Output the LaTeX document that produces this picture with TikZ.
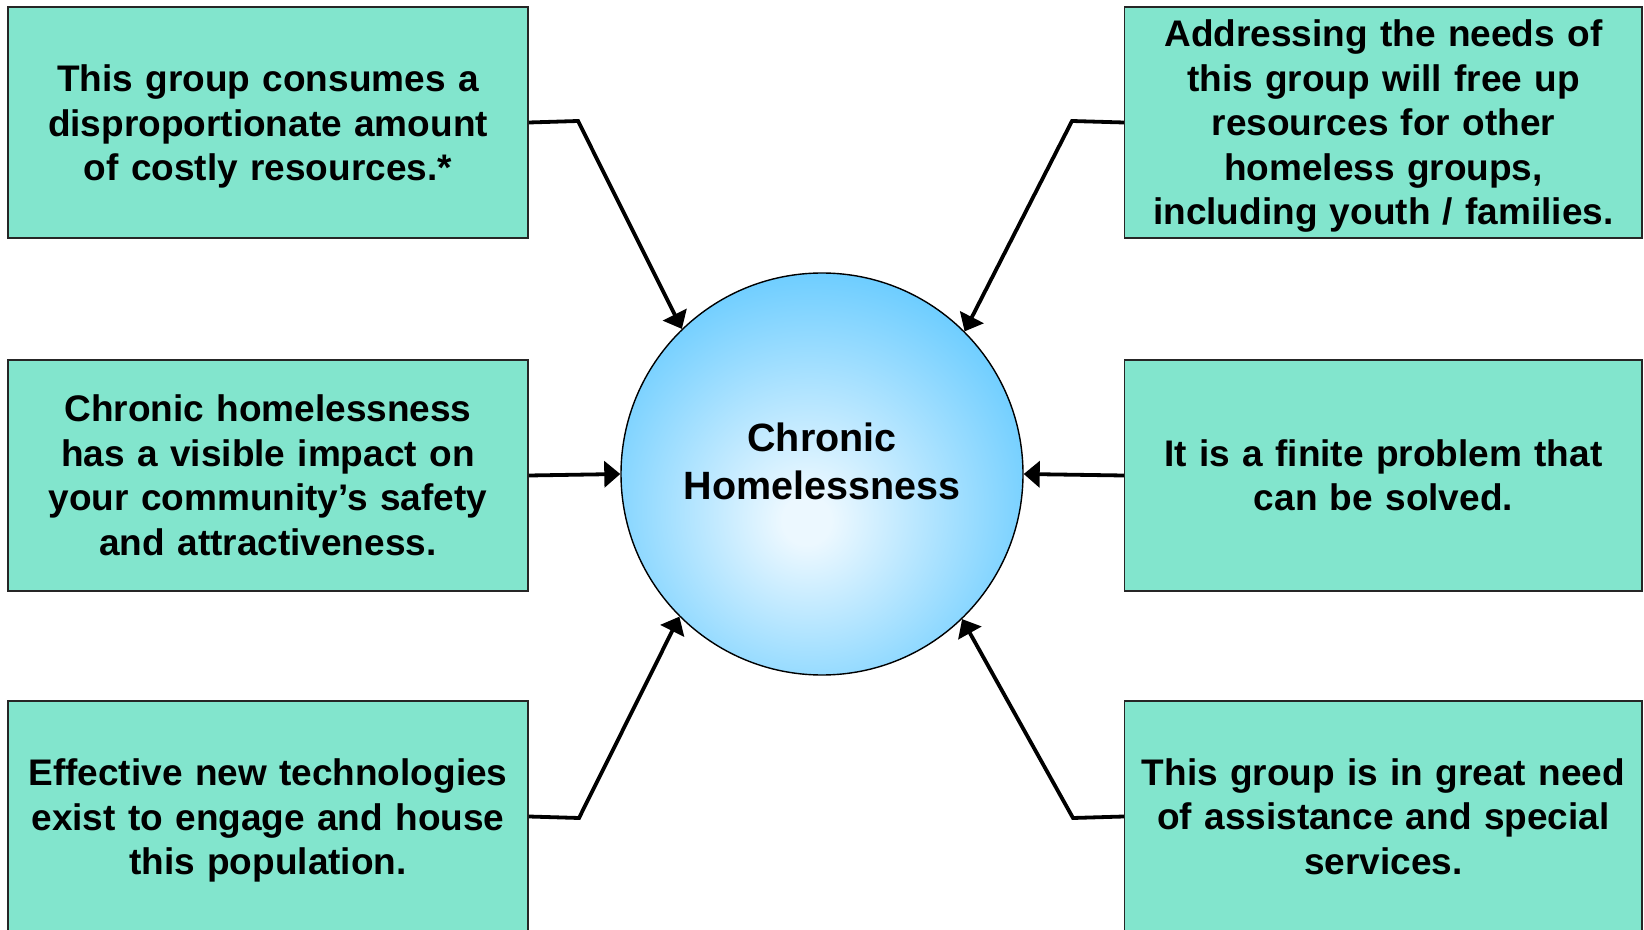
\documentclass[tikz,border=0pt]{standalone}
\usepackage{fontspec}
\setmainfont{Liberation Sans}
\usetikzlibrary{arrows.meta}
\definecolor{boxfill}{RGB}{130,229,205}
\definecolor{ballout}{RGB}{100,202,255}
\definecolor{ballin}{RGB}{236,248,255}
\pgfdeclareradialshading{ballshade}{\pgfpoint{-2bp}{-6bp}}{color(0bp)=(ballin); color(3bp)=(ballin); color(31bp)=(ballout); color(80bp)=(ballout)}
\begin{document}
\begin{tikzpicture}[x=0.5pt,y=-0.5pt,
  infobox/.style={draw=black!85, line width=0.8pt, fill=boxfill, inner sep=0pt,
    minimum height=115.5pt, text width=250pt, align=center,
    font=\fontsize{18.5}{22.25}\selectfont\bfseries},
  leftbox/.style={infobox, minimum width=260pt},
  rightbox/.style={infobox, minimum width=258.75pt},
  descfix/.style={execute at begin node={\rule{0pt}{17.4pt}}},
  ball/.style={circle, draw=black, line width=0.7pt, shade, shading=ballshade,
    minimum size=201pt, inner sep=0pt},
  balltext/.style={align=center, inner sep=0pt, font=\fontsize{19.75}{24}\selectfont\bfseries},
  link/.style={line width=1.9pt, line join=miter, -{Triangle[length=8pt,width=13pt]}}]
\useasboundingbox (0,0) rectangle (1644,930);

% boxes
\node[leftbox, descfix] (tl) at (268,122.5) {This group consumes a\\disproportionate amount\\of costly resources.*};
\node[leftbox] (ml) at (268,475.5) {Chronic homelessness\\has a visible impact on\\your community’s safety\\and attractiveness.};
\node[leftbox, descfix] (bl) at (268,816.5) {Effective new technologies\\exist to engage and house\\this population.};
\node[rightbox, descfix] (tr) at (1383.4,122.5) {Addressing the needs of\\this group will free up\\resources for other\\homeless groups,\\including youth / families.};
\node[rightbox] (mr) at (1383.4,475.5) {It is a finite problem that\\can be solved.};
\node[rightbox] (br) at (1383.4,816.5) {This group is in great need\\of assistance and special\\services.};

% central circle
\node[ball] (core) at (822,474) {};
\node[balltext] (coretext) at (822,461) {Chronic\\Homelessness};

% bends
\coordinate (tlb) at (578,121);
\coordinate (trb) at (1072,121);
\coordinate (blb) at (579,818);
\coordinate (brb) at (1073,818);

% connectors
\draw[link] (tl.east) -- (tlb) -- (core.134.4);
\draw[link] (tr.west) -- (trb) -- (core.45.6);
\draw[link] (ml.east) -- (core.west);
\draw[link] (mr.west) -- (core.east);
\draw[link] (bl.east) -- (blb) -- (core.225.9);
\draw[link] (br.west) -- (brb) -- (core.314.2);
\end{tikzpicture}
\end{document}
